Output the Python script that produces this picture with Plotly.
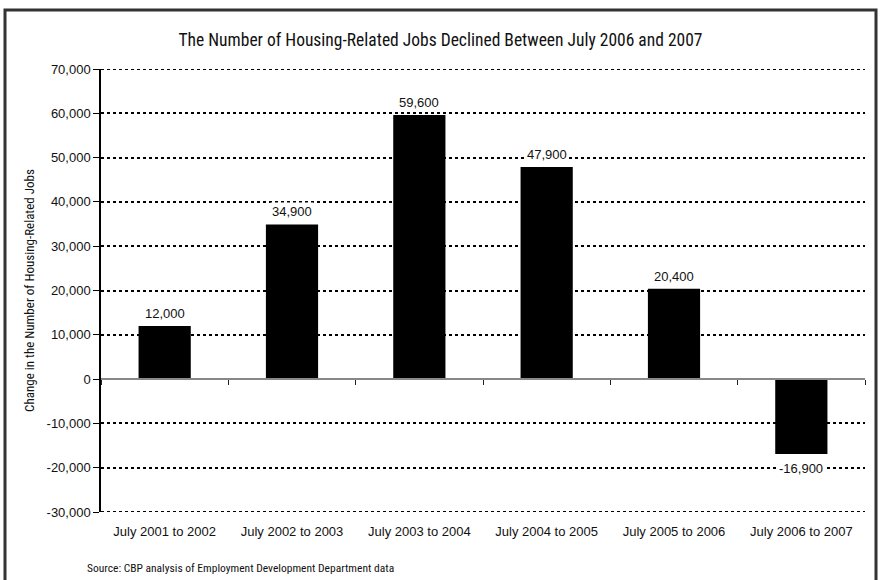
import plotly.graph_objects as go

categories = ["July 2001 to 2002", "July 2002 to 2003", "July 2003 to 2004",
              "July 2004 to 2005", "July 2005 to 2006", "July 2006 to 2007"]
values = [12000, 34900, 59600, 47900, 20400, -16900]
value_labels = ["12,000", "34,900", "59,600", "47,900", "20,400", "-16,900"]
y_tickvals = [-30000, -20000, -10000, 0, 10000, 20000, 30000, 40000, 50000, 60000, 70000]
y_ticktext = ["-30,000", "-20,000", "-10,000", "0", "10,000", "20,000", "30,000",
              "40,000", "50,000", "60,000", "70,000"]

title_text = "The Number of Housing-Related Jobs Declined Between July 2006 and 2007"
y_title = "Change in the Number of Housing-Related Jobs"
source_text = "Source: CBP analysis of Employment Development Department data"

W, H = 881, 580
L, R, T, B = 101, 16, 69, 68
pw, ph = W - L - R, H - T - B
ymin, ymax = y_tickvals[0], y_tickvals[-1]

font_main = "Liberation Sans, Arial, sans-serif"
font_cond = "Roboto Condensed, Liberation Sans, Arial, sans-serif"

fig = go.Figure()
fig.add_trace(go.Bar(x=categories, y=values, marker=dict(color="black", line=dict(width=0)),
                     width=0.41, hoverinfo="x+y"))
# helper trace for the zero-axis with tick marks
fig.add_trace(go.Scatter(x=categories, y=[0] * len(categories), mode="none",
                         xaxis="x2", showlegend=False, hoverinfo="skip"))

# edge gridlines (plotly omits gridlines on the range edges)
for yv in (ymin, ymax):
    fig.add_shape(type="line", xref="paper", yref="y", x0=0, x1=1, y0=yv, y1=yv,
                  line=dict(color="black", width=2, dash="dot"), layer="below")

for c, v, t in zip(categories, values, value_labels):
    fig.add_annotation(x=c, y=v, text=t, showarrow=False,
                       yanchor="bottom" if v >= 0 else "top",
                       yshift=3 if v >= 0 else -5, bgcolor="white", borderpad=1,
                       font=dict(family=font_main, size=13, color="#111"))

fig.update_layout(
    width=W, height=H,
    margin=dict(l=L, r=R, t=T, b=B),
    paper_bgcolor="white", plot_bgcolor="white",
    showlegend=False,
    bargap=0.59,
    title=dict(text=title_text, x=0.5, xanchor="center", xref="container",
               y=1 - 40 / H, yref="container", yanchor="middle",
               font=dict(family=font_cond, size=17.5, color="#111")),
    xaxis=dict(type="category", showline=False, ticks="", showgrid=False,
               tickfont=dict(family=font_main, size=13, color="#111"), ticklabelstandoff=10,
               zeroline=False),
    xaxis2=dict(type="category", overlaying="x", anchor="free",
                position=(0 - ymin) / (ymax - ymin), showline=True, linecolor="#888",
                linewidth=2, ticks="outside", ticklen=5, tickcolor="#222", tickwidth=1,
                tickson="boundaries", showticklabels=False, showgrid=False, matches="x",
                side="bottom"),
    yaxis=dict(range=[ymin, ymax], tickvals=y_tickvals, ticktext=y_ticktext,
               showgrid=True, gridcolor="black", gridwidth=2, griddash="dot",
               zeroline=True, zerolinecolor="#888", zerolinewidth=2,
               showline=True, linecolor="black", linewidth=1.5,
               ticks="outside", ticklen=6, tickcolor="black",
               tickfont=dict(family=font_main, size=13, color="#111"),
               title=dict(text=y_title, standoff=9,
                          font=dict(family=font_cond, size=13, color="#111"))),
)

# outer frame
fig.add_shape(type="rect", xref="paper", yref="paper",
              x0=(5 - L) / pw, x1=(876 - L) / pw,
              y0=(H - B - 600) / ph, y1=(H - B - 10) / ph,
              line=dict(color="#333", width=3), fillcolor="rgba(0,0,0,0)", layer="below")

fig.add_annotation(text=source_text, xref="paper", yref="paper",
                   x=(85 - L) / pw, xanchor="left", y=(H - B - 568) / ph, yanchor="middle",
                   showarrow=False,
                   font=dict(family=font_cond, size=11.5, color="#111"))

fig.write_html("out.html")
